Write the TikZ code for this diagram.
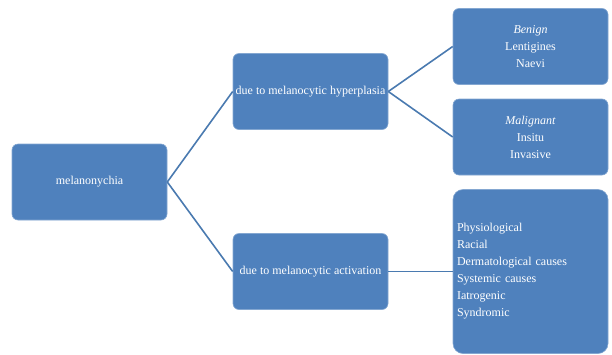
\documentclass[tikz,border=0pt]{standalone}
\usepackage{fontspec}
\setmainfont{Liberation Serif}
\usepackage{tikz}
\usetikzlibrary{positioning}
\definecolor{boxblue}{HTML}{4F81BD}
\definecolor{lineblue}{HTML}{4A7AB0}

\begin{document}
\begin{tikzpicture}[x=1pt, y=-1pt, every node/.style={font=\fontsize{12}{17}\selectfont, text=white}, cell/.style={draw=boxblue!70!white, line width=0.6pt, fill=boxblue, rounded corners=6pt, minimum width=155pt, minimum height=76pt, inner sep=2pt, align=center}, link/.style={lineblue, line width=1.6pt}]
\useasboundingbox (0,0) rectangle (612,354);
\node[cell] (mel) at (89.5,182) {melanonychia};
\node[cell] (hyp) at (310.5,91.5) {due to melanocytic hyperplasia};
\node[cell] (act) at (310.5,271.5) {due to melanocytic activation};
\node[cell] (ben) at (530.5,46.5) {\textit{Benign}\\Lentigines\\Naevi};
\node[cell] (mal) at (530.5,137) {\textit{Malignant}\\Insitu\\Invasive};
\node[cell, rounded corners=10pt, minimum height=164pt, align=left, text width=147pt] (cause) at (530.5,271.5) {Physiological\\Racial\\Dermatological causes\\Systemic causes\\Iatrogenic\\Syndromic};
\draw[link] (mel.east)--(hyp.west);\draw[link] (mel.east)--(act.west);
\draw[link] (hyp.east)--(ben.west);\draw[link] (hyp.east)--(mal.west);
\draw[link] (act.east)--(cause.west);
\end{tikzpicture}
\end{document}
